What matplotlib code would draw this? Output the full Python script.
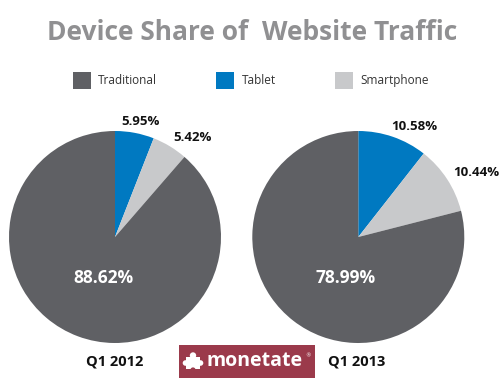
import matplotlib
matplotlib.use("Agg")
import matplotlib.pyplot as plt
from matplotlib.patches import Rectangle, Ellipse

categories = ["Traditional", "Tablet", "Smartphone"]
colors = {"Traditional": "#5f6064", "Tablet": "#0079c1", "Smartphone": "#c8c9cb"}
periods = ["Q1 2012", "Q1 2013"]
tablet = [5.95, 10.58]
smartphone = [5.42, 10.44]
traditional = [88.62, 78.99]

W, H = 500, 385
fig = plt.figure(figsize=(W / 100, H / 100), dpi=100)
fig.patch.set_facecolor("white")

def px_axes(cx, cy, r):
    return fig.add_axes([(cx - r) / W, (H - cy - r) / H, 2 * r / W, 2 * r / H])

# label positions (in pie-radius units) for tablet, smartphone, traditional
label_pos = [
    [(0.236, 1.094), (0.733, 0.934), (-0.113, -0.387)],
    [(0.525, 1.038), (1.117, 0.613), (-0.119, -0.387)],
]
centers = [(115, 237), (358.3, 237)]
R = 106

for i in range(2):
    ax = px_axes(centers[i][0], centers[i][1], R)
    vals = [tablet[i], smartphone[i], traditional[i]]
    cols = [colors["Tablet"], colors["Smartphone"], colors["Traditional"]]
    ax.pie(vals, colors=cols, startangle=90, counterclock=False, radius=1,
           wedgeprops=dict(linewidth=0))
    ax.set_xlim(-1, 1)
    ax.set_ylim(-1, 1)
    ax.set_aspect("auto")
    ax.axis("off")
    for j, v in enumerate(vals):
        x, y = label_pos[i][j]
        if j == 2:
            ax.text(x, y, f"{v:.2f}%", ha="center", va="center", color="white",
                    fontsize=12.5, fontweight="bold", family="Open Sans")
        else:
            ax.text(x, y, f"{v:.2f}%", ha="center", va="center", color="#111111",
                    fontsize=9.5, fontweight="bold", family="Open Sans", clip_on=False)

# title
fig.text(252 / W, 1 - 33 / H, "Device Share of  Website Traffic", ha="center", va="center",
         fontsize=19, fontweight="bold", color="#909092", family="Open Sans")

# legend
leg_items = [("Traditional", 73, 98), ("Tablet", 216, 242), ("Smartphone", 335, 360)]
for name, sx, tx in leg_items:
    fig.patches.append(Rectangle((sx / W, 1 - 89 / H), 18 / W, 17 / H,
                                 transform=fig.transFigure, facecolor=colors[name],
                                 edgecolor="none"))
    fig.text(tx / W, 1 - 80.5 / H, name, ha="left", va="center", fontsize=8.5,
             color="#333333", family="Open Sans")

# period labels
for i, p in enumerate(periods):
    cx = [114.5, 357][i]
    fig.text(cx / W, 1 - 362 / H, p, ha="center", va="center", fontsize=10.5,
             fontweight="bold", color="#111111", family="Open Sans")

# monetate logo
fig.patches.append(Rectangle((179 / W, 1 - 378 / H), 136 / W, 33 / H,
                             transform=fig.transFigure, facecolor="#9b3a4b",
                             edgecolor="none"))
# simple puzzle icon
def fig_rect(x, y, w, h, fc):
    fig.patches.append(Rectangle((x / W, 1 - (y + h) / H), w / W, h / H,
                                 transform=fig.transFigure, facecolor=fc, edgecolor="none"))
def fig_circ(x, y, r, fc):
    fig.patches.append(Ellipse((x / W, 1 - y / H), 2 * r / W, 2 * r / H,
                               transform=fig.transFigure, facecolor=fc, edgecolor="none"))
fig_rect(186, 357, 14, 12, "white")
fig_circ(193, 355.5, 3.2, "white")
fig_circ(185.5, 363, 2.8, "white")
fig_circ(200.5, 363, 2.8, "white")
fig_circ(193, 370, 2.6, "#9b3a4b")

fig.text(303 / W, 1 - 361.5 / H, "monetate", ha="right", va="center", fontsize=14,
         fontweight="bold", color="white", family="Open Sans")
fig.text(305 / W, 1 - 356 / H, "®", ha="left", va="center", fontsize=4,
         color="white", family="DejaVu Sans")

fig.savefig("out.png", dpi=100, facecolor="white")
